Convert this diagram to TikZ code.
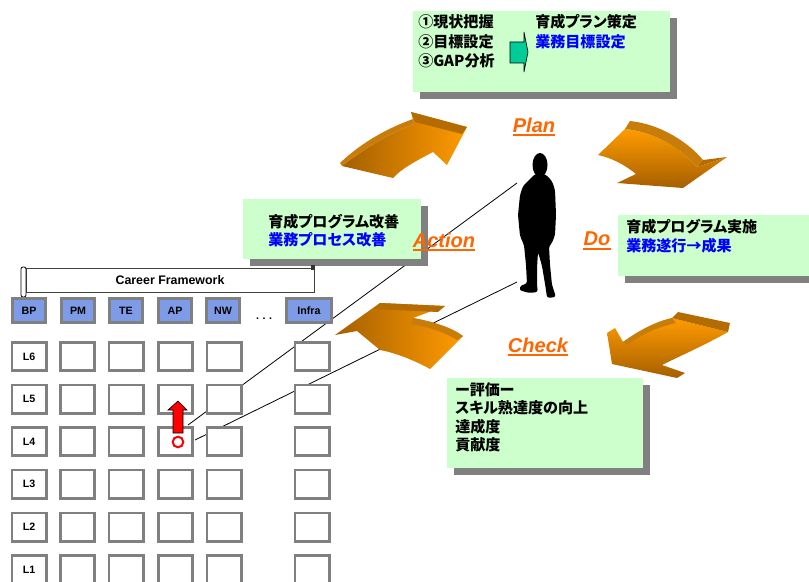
\documentclass[tikz,border=0pt]{standalone}
\usepackage{fontspec}
\setmainfont{Liberation Sans}
\newfontfamily\jp{Noto Sans CJK JP}[RawFeature=+palt]
\usetikzlibrary{shadows}

\definecolor{boxgreen}{RGB}{204,255,204}
\definecolor{shadowgray}{RGB}{128,128,128}
\definecolor{cellgray}{RGB}{128,128,128}
\definecolor{hdrblue}{RGB}{125,155,230}
\definecolor{lblorange}{RGB}{255,102,0}
\definecolor{jblue}{RGB}{0,0,255}
\definecolor{orlight}{RGB}{255,155,0}
\definecolor{ordark}{RGB}{165,95,0}
\definecolor{orslab}{RGB}{180,108,0}
\definecolor{orside}{RGB}{200,125,10}
\definecolor{teal}{RGB}{0,204,153}

\tikzset{
  greenbox/.style={fill=boxgreen, draw=none, anchor=north west,
    drop shadow={shadow xshift=5.25pt, shadow yshift=-5.25pt, fill=shadowgray, opacity=1}},
  jtext/.style={font=\jp\bfseries\fontsize{11.3}{13}\selectfont, inner sep=0pt, anchor=west},
  jblue/.style={jtext, text=jblue},
  hdr/.style={fill=hdrblue, draw=cellgray, line width=2pt, minimum width=25pt,
    minimum height=18.25pt, inner sep=0pt, font=\bfseries\fontsize{8}{9}\selectfont},
  cell/.style={fill=white, draw=cellgray, line width=2pt, minimum width=25.75pt,
    minimum height=21.25pt, inner sep=0pt, font=\bfseries\fontsize{8}{9}\selectfont},
  cyclelabel/.style={text=lblorange, font=\bfseries\itshape\fontsize{15}{18}\selectfont, inner sep=0pt},
  underl/.style={lblorange, line width=1.3pt},
  pointer/.style={line width=0.6pt, black},
}

\begin{document}
\begin{tikzpicture}[x=0.75pt, y=-0.75pt]
\useasboundingbox (0,0) rectangle (809,581);
\clip (0,0) rectangle (809,581);

% anchor points on the figure and on the level grid
\coordinate (fig-upper) at (517,183);
\coordinate (fig-lower) at (517,282);
\coordinate (grid-upper) at (188,425);
\coordinate (grid-lower) at (195,440);

% pointer lines, drawn first so the boxes cover them
\draw[pointer] (fig-upper) -- (grid-upper);
\draw[pointer] (fig-lower) -- (grid-lower);

% ---------- Plan box ----------
\node[greenbox, minimum width=192.75pt, minimum height=60.75pt] (planbox) at (413,11) {};
\node[jtext] (plan1) at (418,22) {①現状把握};
\node[jtext] (plan2) at (418,42) {②目標設定};
\node[jtext] (plan3) at (418,61) {③GAP分析};
\node[jtext] (plan4) at (535,22) {育成プラン策定};
\node[jblue] (plan5) at (535,42) {業務目標設定};
\draw[fill=teal, line width=0.5pt] (510,42) -- (524,42) -- (524,32) -- (528,52) -- (524,72) -- (524,63) -- (510,63) -- cycle;

% ---------- Action box ----------
\node[greenbox, minimum width=133.5pt, minimum height=45pt] (actbox) at (243,199) {};
\node[jtext] (act1) at (268,222) {育成プログラム改善};
\node[jblue] (act2) at (268,240) {業務プロセス改善};

% ---------- Do box ----------
\node[greenbox, minimum width=160pt, minimum height=45.75pt] (dobox) at (618,215) {};
\node[jtext] (do1) at (626,227) {育成プログラム実施};
\node[jblue] (do2) at (626,246) {業務遂行→成果};

% ---------- Check box ----------
\node[greenbox, minimum width=147pt, minimum height=67.5pt] (chkbox) at (447,378) {};
\node[jtext] (chk1) at (455,390) {ー評価ー};
\node[jtext] (chk2) at (455,408) {スキル熟達度の向上};
\node[jtext] (chk3) at (455,427) {達成度};
\node[jtext] (chk4) at (455,445) {貢献度};

% ---------- cycle arrows ----------
% Action -> Plan
\shade[left color=ordark, right color=orlight]
  (342,166) .. controls (365,148) and (390,133) .. (414,124) -- (411,112) -- (467,127)
  -- (447,165) -- (433,152) .. controls (418,160) and (402,168) .. (393,178) -- cycle;
\fill[orslab] (411,112) -- (467,127) -- (462,134) -- (415,122) -- cycle;
\fill[orside] (342,166) .. controls (365,148) and (390,133) .. (414,124) -- (413,119)
  .. controls (388,128) and (362,142) .. (340,163) -- cycle;

% Plan -> Do
\shade[top color=orlight, bottom color=ordark]
  (598,155) -- (625,129) .. controls (655,132) and (680,148) .. (697,167) -- (727,157)
  -- (683,188) -- (617,183) -- (636,174) .. controls (625,165) and (612,158) .. (598,155) -- cycle;
\fill[orside] (625,129) -- (630,121) .. controls (660,124) and (688,142) .. (703,160)
  -- (697,167) .. controls (680,148) and (655,132) .. (625,129) -- cycle;
\fill[orslab] (697,167) -- (703,160) -- (727,157) -- cycle;

% Check -> Action
\shade[left color=ordark, right color=orlight]
  (335,335) -- (380,303) -- (445,306) -- (413,318) .. controls (435,322) and (452,328) .. (463,336)
  -- (430,369) .. controls (412,359) and (392,352) .. (380,350) -- (357,331) -- cycle;
\fill[orslab] (380,303) -- (445,306) -- (438,312) -- (373,309) -- cycle;
\fill[orside] (413,318) .. controls (435,322) and (452,328) .. (463,336) -- (457,340)
  .. controls (446,333) and (430,327) .. (411,324) -- cycle;

% Do -> Check
\shade[top color=orlight, bottom color=ordark]
  (672,318) -- (728,332) .. controls (705,345) and (680,356) .. (662,365) -- (685,373)
  -- (677,378) -- (612,364) -- (607,333) -- (615,328) -- (623,342)
  .. controls (640,330) and (655,322) .. (672,318) -- cycle;
\fill[orslab] (678,312) -- (730,323) -- (728,332) -- (672,318) -- cycle;
\fill[orside] (623,342) .. controls (640,330) and (655,322) .. (672,318) -- (676,323)
  .. controls (658,327) and (642,334) .. (627,345) -- cycle;

% ---------- cycle labels ----------
\node[cyclelabel] (lplan) at (534,125) {Plan};
\node[cyclelabel] (ldo) at (597,239) {Do};
\node[cyclelabel] (lact) at (444,240) {Action};
\node[cyclelabel] (lchk) at (538,345) {Check};
\foreach \l in {lplan, ldo, lact, lchk}
  \draw[underl] ([yshift=-2.2pt]\l.base west) -- ([yshift=-2.2pt]\l.base east);

% ---------- standing figure ----------
\fill[black] (540,165) ellipse [x radius=7.5, y radius=12];
\fill[black, rounded corners=2pt]
  (535,174) -- (545,174) -- (552,181) -- (555,190) -- (556,215) -- (555,235) -- (552,243)
  -- (549,246) -- (550,265) -- (552,285) -- (556,297) -- (547,298) -- (546,290)
  -- (542,266) -- (538,252) -- (537,268) -- (537,286) -- (538,292) -- (529,293)
  -- (519,290) -- (521,285) -- (527,284) -- (526,265) -- (524,245) -- (520,236)
  -- (518,215) -- (520,195) -- (523,186) -- (528,181) -- cycle;

% ---------- career framework ----------
\node[draw=black!75, line width=0.6pt, fill=white, minimum width=216pt, minimum height=18pt,
  inner sep=0pt, font=\bfseries\fontsize{9.3}{10}\selectfont] (cf) at (170,280) {Career Framework};
\draw[line width=0.6pt, fill=white, rounded corners=1.5pt] (21,267) rectangle (26,297);
\fill[black!80] (311,265) rectangle (315,270);

\node[hdr] (hBP) at (29,310.5) {BP};
\node[hdr] (hPM) at (78,310.5) {PM};
\node[hdr] (hTE) at (126,310.5) {TE};
\node[hdr] (hAP) at (175,310.5) {AP};
\node[hdr] (hNW) at (223,310.5) {NW};
\node[hdr, minimum width=34pt] (hInfra) at (309,310.5) {Infra};
\node[inner sep=0pt, font=\bfseries\fontsize{8}{9}\selectfont] (hdots) at (264,319) {.\,\,.\,\,.};

% level grid
\foreach \lv/\y in {6/356.5, 5/399, 4/441.5, 3/484, 2/527, 1/569.5} {
  \node[cell] (c-\lv-0) at (29,\y) {L\lv};
  \foreach \c/\x in {1/77.5, 2/126, 3/175.5, 4/224, 5/312} {
    \node[cell] (c-\lv-\c) at (\x,\y) {};
  }
}

% level-up marker
\draw[fill=red, line width=0.5pt] (178,401) -- (187,410) -- (183,410) -- (183,433)
  -- (173,433) -- (173,410) -- (168,410) -- cycle;
\node[circle, draw=red, line width=1.5pt, fill=white, minimum size=8pt, inner sep=0pt] (lvl) at (178,442) {};

\end{tikzpicture}
\end{document}
